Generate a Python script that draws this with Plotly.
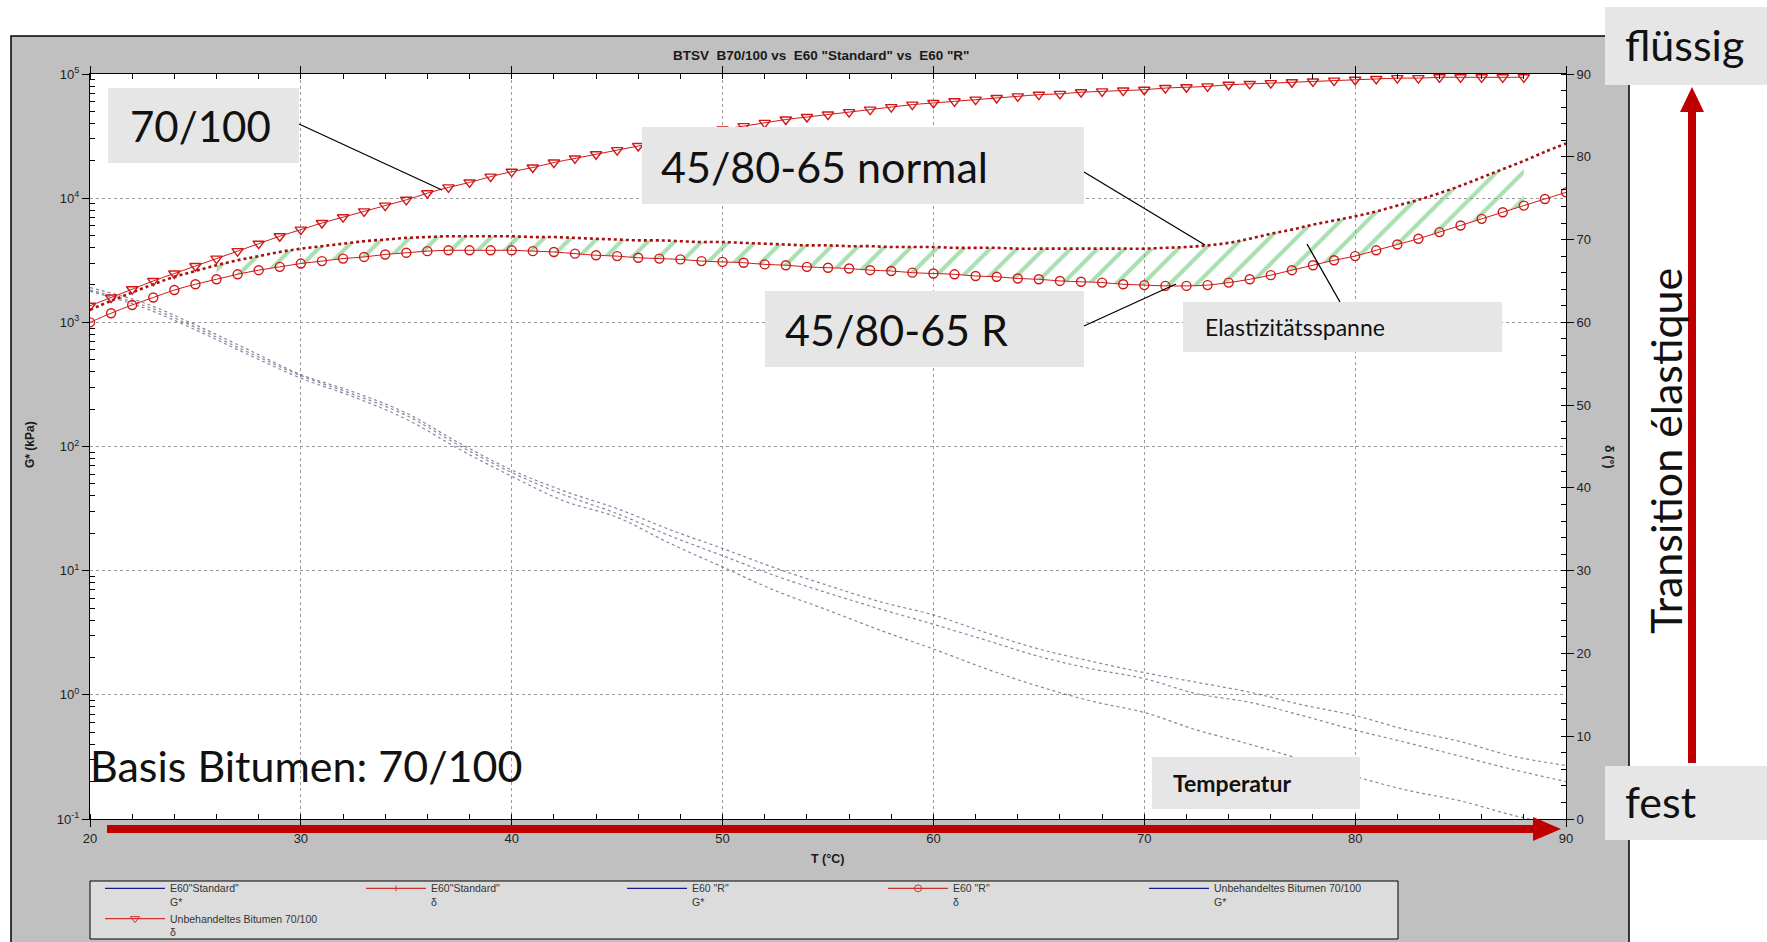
import plotly.graph_objects as go

# ---------------- data ----------------
temps_delta = list(range(20, 91))          # °C, for the two E60 phase-angle series
delta_std = [61.5, 62.6, 63.6, 64.6, 65.5, 66.2, 66.9, 67.5, 68.0, 68.5,
             68.9, 69.2, 69.5, 69.8, 70.0, 70.2, 70.3, 70.4, 70.4, 70.4,
             70.4, 70.3, 70.3, 70.2, 70.1, 70.0, 69.9, 69.9, 69.8, 69.7,
             69.7, 69.6, 69.5, 69.4, 69.3, 69.3, 69.2, 69.2, 69.1, 69.1,
             69.1, 69.0, 69.0, 69.0, 68.9, 68.9, 68.9, 68.9, 68.9, 68.9,
             68.9, 69.0, 69.1, 69.3, 69.6, 70.1, 70.7, 71.2, 71.8, 72.3,
             72.8, 73.4, 74.1, 74.8, 75.6, 76.5, 77.5, 78.5, 79.5, 80.6,
             81.6]
delta_r = [60.0, 61.1, 62.1, 63.0, 63.9, 64.6, 65.2, 65.8, 66.3, 66.7,
           67.1, 67.4, 67.7, 67.9, 68.2, 68.4, 68.6, 68.7, 68.7, 68.7,
           68.7, 68.6, 68.5, 68.3, 68.1, 68.0, 67.8, 67.7, 67.6, 67.4,
           67.3, 67.2, 67.0, 66.9, 66.7, 66.6, 66.5, 66.3, 66.2, 66.0,
           65.9, 65.8, 65.6, 65.5, 65.3, 65.2, 65.0, 64.9, 64.8, 64.6,
           64.5, 64.4, 64.4, 64.5, 64.8, 65.2, 65.7, 66.3, 66.9, 67.5,
           68.0, 68.7, 69.4, 70.1, 70.9, 71.7, 72.5, 73.3, 74.1, 74.9,
           75.7]
temps_base = list(range(20, 89))           # °C, unmodified bitumen 70/100
delta_base = [62.0, 63.0, 64.0, 65.0, 65.9, 66.8, 67.7, 68.6, 69.5, 70.4,
              71.2, 72.0, 72.7, 73.4, 74.1, 74.8, 75.6, 76.3, 76.9, 77.6,
              78.2, 78.7, 79.3, 79.8, 80.3, 80.8, 81.3, 81.8, 82.3, 82.8,
              83.3, 83.7, 84.1, 84.5, 84.8, 85.1, 85.4, 85.7, 86.0, 86.3,
              86.5, 86.7, 86.9, 87.1, 87.3, 87.5, 87.6, 87.8, 87.9, 88.0,
              88.1, 88.3, 88.4, 88.5, 88.7, 88.8, 88.9, 89.0, 89.1, 89.2,
              89.3, 89.4, 89.5, 89.5, 89.6, 89.6, 89.6, 89.6, 89.6]

temps_g = [20, 22.5, 25, 27.5, 30, 32.5, 35, 37.5, 40, 42.5, 45, 47.5, 50, 52.5,
           55, 57.5, 60, 62.5, 65, 67.5, 70, 72.5, 75, 77.5, 80, 82.5, 85, 87.5, 90]
g_std = [1905, 1445, 955, 603, 380, 275, 186, 107, 64.6, 43.7, 31.6, 21.4, 15.1, 10.5,
         7.6, 5.6, 4.4, 3.16, 2.34, 1.86, 1.51, 1.26, 1.05, 0.83, 0.68, 0.52, 0.42, 0.32, 0.27]
g_r = [1820, 1380, 912, 575, 372, 263, 178, 102, 61.7, 40.7, 28.8, 19.1, 13.2, 9.1,
       6.6, 4.9, 3.7, 2.75, 2.04, 1.62, 1.35, 1.02, 0.87, 0.68, 0.52, 0.41, 0.32, 0.25, 0.20]
g_base = [1780, 1320, 871, 550, 355, 251, 166, 95.5, 57.5, 36.3, 26.9, 16.6, 10.7, 6.9,
          4.8, 3.3, 2.34, 1.62, 1.17, 0.89, 0.72, 0.52, 0.40, 0.30, 0.22, 0.17, 0.14, 0.107, 0.087]

hatch_range = (26, 88)   # °C span of the "Elastizitätsspanne" hatching

legend_names = ['E60"Standard"<br>G*', 'E60"Standard"<br>δ', 'E60 "R"<br>G*',
                'E60 "R"<br>δ', 'Unbehandeltes Bitumen 70/100<br>G*',
                'Unbehandeltes Bitumen 70/100<br>δ']

y_tickvals = [0.1, 1, 10, 100, 1000, 10000, 100000]
y_ticktext = ['10<sup>-1</sup>', '10<sup>0</sup>', '10<sup>1</sup>', '10<sup>2</sup>',
              '10<sup>3</sup>', '10<sup>4</sup>', '10<sup>5</sup>']

# ---------------- geometry helpers ----------------
W, H = 1767, 942
L, T, PW, PH = 90, 74, 1476, 745


def fx(px):
    return (px - L) / PW


def fy(py):
    return 1 - (py - T) / PH


RED = '#c00000'
MRED = '#d01818'
GCOL = 'rgba(55,55,95,0.6)'
ARIAL = 'Liberation Sans, Arial, sans-serif'
PPT = 'Lato, Open Sans, sans-serif'

fig = go.Figure()

# hatching between the two E60 phase-angle curves
h_idx = [i for i, t in enumerate(temps_delta) if hatch_range[0] <= t <= hatch_range[1]]
fig.add_trace(go.Scatter(x=[temps_delta[i] for i in h_idx], y=[delta_r[i] for i in h_idx],
                         yaxis='y2', mode='lines', line=dict(width=0, shape='spline'),
                         showlegend=False, hoverinfo='skip'))
fig.add_trace(go.Scatter(x=[temps_delta[i] for i in h_idx], y=[delta_std[i] for i in h_idx],
                         yaxis='y2', mode='lines', line=dict(width=0, shape='spline'),
                         fill='tonexty', fillcolor='rgba(0,0,0,0)',
                         fillpattern=dict(shape='/', fgcolor='#55c065', bgcolor='rgba(0,0,0,0)',
                                          size=19, solidity=0.22),
                         showlegend=False, hoverinfo='skip'))

# G* curves
for gv in (g_std, g_r, g_base):
    fig.add_trace(go.Scatter(x=temps_g, y=gv, mode='lines',
                             line=dict(color=GCOL, width=1.2, dash='dot', shape='spline'),
                             showlegend=False))

# phase angle curves
fig.add_trace(go.Scatter(x=temps_delta, y=delta_std, yaxis='y2', mode='lines',
                         line=dict(color='#a81010', width=2.6, dash='dot', shape='spline'),
                         showlegend=False))
fig.add_trace(go.Scatter(x=temps_delta, y=delta_r, yaxis='y2', mode='lines+markers',
                         line=dict(color=MRED, width=1, shape='spline'),
                         marker=dict(symbol='circle-open', size=9, color=MRED,
                                     line=dict(width=1.4, color=MRED)),
                         showlegend=False))
fig.add_trace(go.Scatter(x=temps_base, y=delta_base, yaxis='y2', mode='lines+markers',
                         line=dict(color=MRED, width=1, shape='spline'),
                         marker=dict(symbol='triangle-down-open', size=10, color=MRED,
                                     line=dict(width=1.4, color=MRED)),
                         showlegend=False))

# legend entries
leg_styles = [
    dict(mode='lines', line=dict(color='#1a1a8c', width=1.3)),
    dict(mode='lines+markers', line=dict(color='#d03030', width=1.3),
         marker=dict(symbol='line-ns-open', size=4, color='#d03030', line=dict(width=1, color='#d03030'))),
    dict(mode='lines', line=dict(color='#1a1a8c', width=1.3)),
    dict(mode='lines+markers', line=dict(color='#d03030', width=1.3),
         marker=dict(symbol='circle-open', size=7, color='#d03030', line=dict(width=1, color='#d03030'))),
    dict(mode='lines', line=dict(color='#1a1a8c', width=1.3)),
    dict(mode='lines+markers', line=dict(color='#d03030', width=1.3),
         marker=dict(symbol='triangle-down-open', size=8, color='#d03030', line=dict(width=1, color='#d03030'))),
]
for name, st in zip(legend_names, leg_styles):
    fig.add_trace(go.Scatter(x=[None], y=[None], name=name, showlegend=True, **st))

# ---------------- shapes ----------------
shapes = []
shapes.append(dict(type='rect', xref='paper', yref='paper', x0=fx(11), x1=fx(1629),
                   y0=fy(950), y1=fy(36), fillcolor='#c0c0c0',
                   line=dict(color='black', width=1.5), layer='below'))
shapes.append(dict(type='rect', xref='paper', yref='paper', x0=0, x1=1, y0=0, y1=1,
                   fillcolor='white', line=dict(width=0), layer='below'))
shapes.append(dict(type='rect', xref='paper', yref='paper', x0=fx(90), x1=fx(1398),
                   y0=fy(939), y1=fy(881), fillcolor='#dcdcdc',
                   line=dict(color='black', width=1), layer='below'))

BOX = '#e6e6e6'
boxes = [(108, 88, 299, 163), (642, 127, 1084, 204), (765, 291, 1084, 367),
         (1183, 302, 1502, 352), (1152, 757, 1360, 809), (1605, 7, 1767, 85),
         (1605, 766, 1767, 840)]
for (x0, y0, x1, y1) in boxes:
    shapes.append(dict(type='rect', xref='paper', yref='paper', x0=fx(x0), x1=fx(x1),
                       y0=fy(y1), y1=fy(y0), fillcolor=BOX, line=dict(width=0), layer='above'))

pointers = [((299, 124), (442, 190)), ((1084, 172), (1205, 245)),
            ((1084, 326), (1176, 284)), ((1340, 302), (1307, 244))]
for (a, b) in pointers:
    shapes.append(dict(type='line', xref='paper', yref='paper', x0=fx(a[0]), y0=fy(a[1]),
                       x1=fx(b[0]), y1=fy(b[1]), line=dict(color='black', width=1.3),
                       layer='above'))

shapes.append(dict(type='rect', xref='paper', yref='paper', x0=fx(107), x1=fx(1536),
                   y0=fy(833), y1=fy(825), fillcolor=RED, line=dict(width=0), layer='above'))


def ppath(pts):
    return 'M ' + ' L '.join(f'{fx(p[0]):.5f},{fy(p[1]):.5f}' for p in pts) + ' Z'


shapes.append(dict(type='path', xref='paper', yref='paper',
                   path=ppath([(1533, 817), (1561, 829), (1533, 841)]),
                   fillcolor=RED, line=dict(width=0), layer='above'))
shapes.append(dict(type='rect', xref='paper', yref='paper', x0=fx(1688), x1=fx(1696),
                   y0=fy(763), y1=fy(108), fillcolor=RED, line=dict(width=0), layer='above'))
shapes.append(dict(type='path', xref='paper', yref='paper',
                   path=ppath([(1680, 112), (1692, 87), (1704, 112)]),
                   fillcolor=RED, line=dict(width=0), layer='above'))

# ---------------- annotations ----------------
ann = []


def txt(text, px, py, size, family=PPT, xanchor='left', angle=0, color='#111111'):
    ann.append(dict(text=text, xref='paper', yref='paper', x=fx(px), y=fy(py),
                    xanchor=xanchor, yanchor='middle', showarrow=False, textangle=angle,
                    font=dict(family=family, size=size, color=color)))


txt('<b>BTSV  B70/100 vs  E60 "Standard" vs  E60 "R"</b>', 821, 55, 13.5, ARIAL, 'center', 0, '#1a1a1a')
txt('<b>G* (kPa)</b>', 30, 445, 12, ARIAL, 'center', -90, '#1a1a1a')
txt('<b>T (°C)</b>', 827, 859, 12.5, ARIAL, 'center', 0, '#1a1a1a')
txt('<b>δ (°)</b>', 1609, 456, 12, ARIAL, 'center', 90, '#1a1a1a')

txt('70/100', 128, 126, 42)
txt('45/80-65 normal', 659, 166, 43)
txt('45/80-65 R', 783, 329, 43)
txt('Elastizitätsspanne', 1203, 327, 23)
txt('<b>Temperatur</b>', 1171, 783, 23)
txt('Basis Bitumen: 70/100', 88, 765, 43)
txt('flüssig', 1623, 44, 43)
txt('fest', 1623, 801, 43)
txt('Transition élastique', 1665, 451, 43, PPT, 'center', -90)

minor_log = [k * 10 ** e for e in range(-1, 5) for k in range(2, 10)]

fig.update_layout(
    width=W, height=H, autosize=False,
    margin=dict(l=L, r=W - L - PW, t=T, b=H - T - PH, autoexpand=False),
    paper_bgcolor='white', plot_bgcolor='white',
    font=dict(family=ARIAL, color='#222222'),
    shapes=shapes, annotations=ann,
    xaxis=dict(range=[20, 90], tick0=20, dtick=10, showline=True, linecolor='black',
               linewidth=1, mirror='ticks', ticks='outside', ticklen=7, tickcolor='black',
               minor=dict(dtick=2, tick0=20, ticks='inside', ticklen=5, tickcolor='black',
                          showgrid=False),
               showgrid=True, gridcolor='#9a9a9a', griddash='dot', gridwidth=1,
               zeroline=False, tickfont=dict(size=13, color='#222222')),
    yaxis=dict(type='log', range=[-1, 5], tickmode='array', tickvals=y_tickvals,
               ticktext=y_ticktext, showline=True, linecolor='black', linewidth=1,
               ticks='outside', ticklen=7, tickcolor='black',
               minor=dict(tickmode='array', tickvals=minor_log, ticks='inside', ticklen=5,
                          tickcolor='black', showgrid=False),
               showgrid=True, gridcolor='#9a9a9a', griddash='dot', gridwidth=1,
               zeroline=False, tickfont=dict(size=13, color='#222222')),
    yaxis2=dict(overlaying='y', side='right', anchor='x', range=[0, 90], tick0=0, dtick=10,
                showline=True, linecolor='black', linewidth=1, ticks='outside', ticklen=7,
                tickcolor='black',
                minor=dict(dtick=2, tick0=0, ticks='inside', ticklen=5, tickcolor='black',
                           showgrid=False),
                showgrid=False, zeroline=False, tickfont=dict(size=13, color='#222222')),
    legend=dict(orientation='h', x=fx(100), xanchor='left', y=fy(875), yanchor='top',
                bgcolor='rgba(0,0,0,0)', borderwidth=0, itemwidth=60,
                entrywidth=186, entrywidthmode='pixels', valign='top',
                font=dict(family=ARIAL, size=10.5, color='#333333'), traceorder='normal'),
)

fig.write_html('out.html', config={'displayModeBar': False},
               post_script="document.body.style.margin='0px';"
                           "document.body.style.overflow='hidden';")
